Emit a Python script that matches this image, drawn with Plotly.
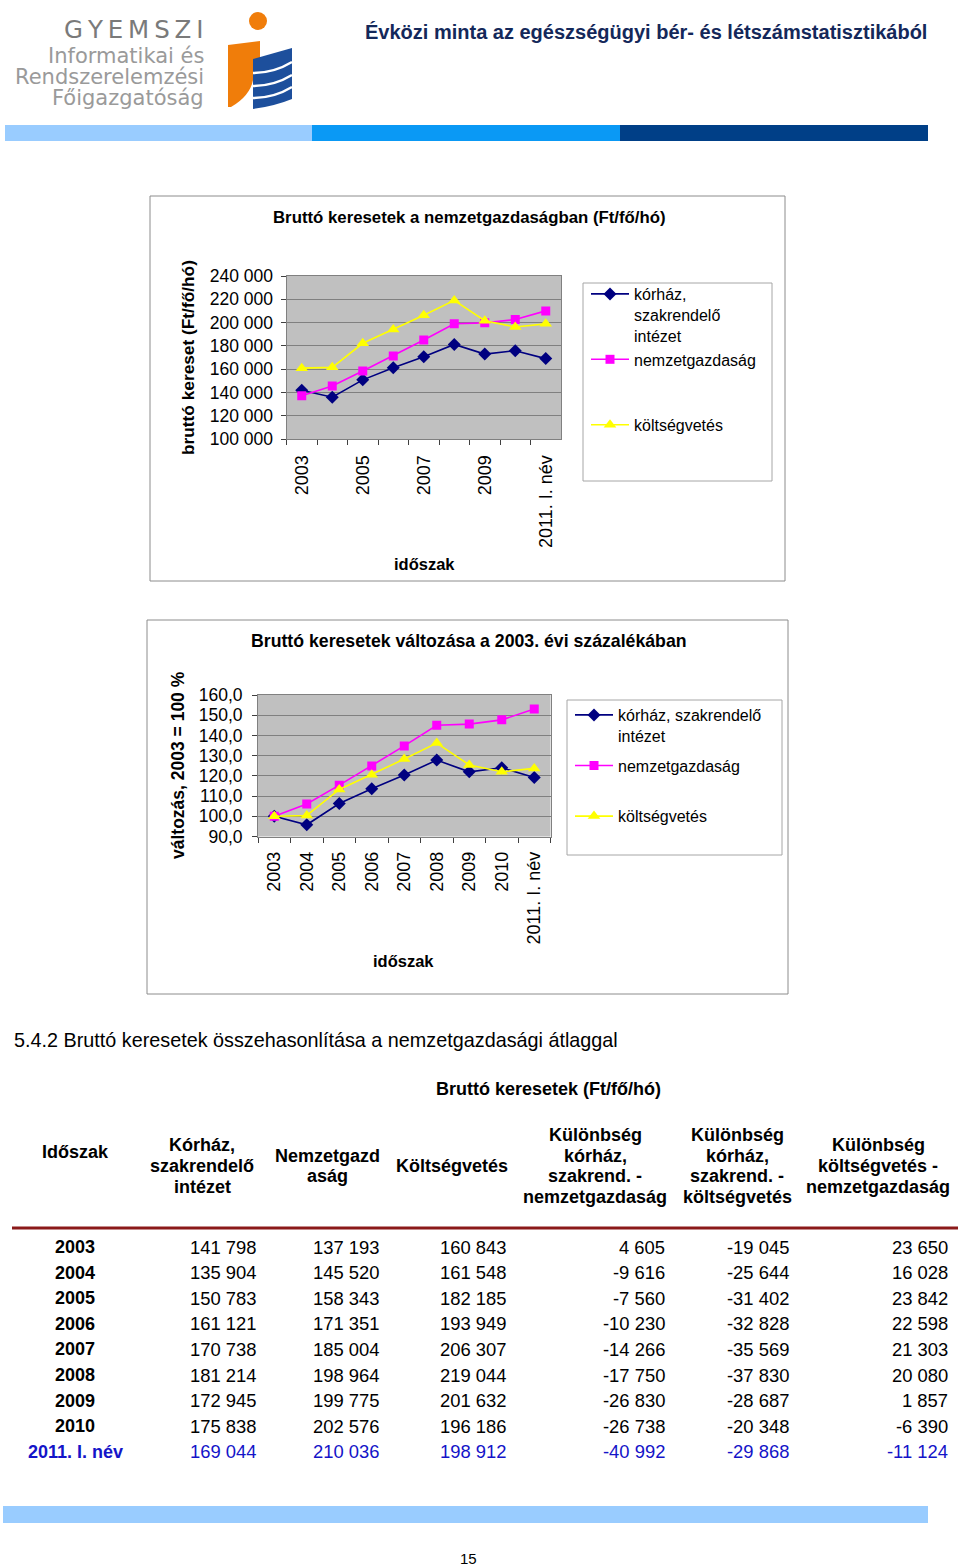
import plotly.graph_objects as go

W, H = 960, 1567
def X(px): return px / W
def Y(py): return 1 - py / H

def P(s):
    """convert a pixel path string (x y pairs) to paper coordinates"""
    out, nums = [], []
    for tok in s.replace(",", " ").split():
        if tok.isalpha():
            out.append(tok)
        else:
            nums.append(float(tok))
            if len(nums) == 2:
                out.append(f"{X(nums[0]):.5f},{Y(nums[1]):.5f}")
                nums = []
    return " ".join(out)

# ---------------- data ----------------
periods = ["2003", "2004", "2005", "2006", "2007", "2008", "2009", "2010", "2011. I. név"]
korhaz = [141798, 135904, 150783, 161121, 170738, 181214, 172945, 175838, 169044]
nemzetgazdasag = [137193, 145520, 158343, 171351, 185004, 198964, 199775, 202576, 210036]
koltsegvetes = [160843, 161548, 182185, 193949, 206307, 219044, 201632, 196186, 198912]
kul_korhaz_nemzet = [4605, -9616, -7560, -10230, -14266, -17750, -26830, -26738, -40992]
kul_korhaz_kolts = [-19045, -25644, -31402, -32828, -35569, -37830, -28687, -20348, -29868]
kul_kolts_nemzet = [23650, 16028, 23842, 22598, 21303, 20080, 1857, -6390, -11124]

korhaz_pct = [100.0, 95.8, 106.3, 113.6, 120.4, 127.8, 122.0, 124.0, 119.2]
nemzetgazdasag_pct = [100.0, 106.1, 115.4, 124.9, 134.8, 145.0, 145.6, 147.7, 153.1]
koltsegvetes_pct = [100.0, 100.4, 113.3, 120.6, 128.3, 136.2, 125.4, 122.0, 123.7]

legend1_names = ["kórház,<br>szakrendelő<br>intézet", "nemzetgazdaság<br>\u00a0<br>\u00a0", "költségvetés"]
legend2_names = ["kórház, szakrendelő<br>intézet", "nemzetgazdaság<br>\u00a0", "költségvetés"]
chart1_ticktext = ["2003", "", "2005", "", "2007", "", "2009", "", "2011. I. név"]

table_headers = [
    ["Időszak"],
    ["Kórház,", "szakrendelő", "intézet"],
    ["Nemzetgazd", "aság"],
    ["Költségvetés"],
    ["Különbség", "kórház,", "szakrend. -", "nemzetgazdaság"],
    ["Különbség", "kórház,", "szakrend. -", "költségvetés"],
    ["Különbség", "költségvetés -", "nemzetgazdaság"],
]

# ---------------- styles ----------------
FONT = "Liberation Sans, Arial, sans-serif"
colors = ["#000080", "#FF00FF", "#FFFF00"]
symbols = ["diamond", "square", "triangle-up"]
sizes = [10, 9, 11]

fig = go.Figure()

for vals, nm, c, s, sz in zip([korhaz, nemzetgazdasag, koltsegvetes], legend1_names, colors, symbols, sizes):
    fig.add_trace(go.Scatter(x=periods, y=vals, name=nm, mode="lines+markers",
                             line=dict(color=c, width=1.6),
                             marker=dict(symbol=s, size=sz, color=c),
                             xaxis="x", yaxis="y", legend="legend"))

for i, (vals, nm, c, s, sz) in enumerate(zip([korhaz_pct, nemzetgazdasag_pct, koltsegvetes_pct],
                                             legend2_names, colors, symbols, sizes)):
    fig.add_trace(go.Scatter(x=periods, y=vals, name=nm, mode="lines+markers",
                             line=dict(color=c, width=1.6),
                             marker=dict(symbol=s, size=sz, color=c),
                             legendgroup=f"g2_{i}",
                             xaxis="x2", yaxis="y2", legend="legend2"))

axis_common = dict(showline=True, linecolor="#808080", linewidth=1, mirror=True,
                   ticks="outside", ticklen=5, tickcolor="#404040", fixedrange=True)
xfont = dict(family=FONT, size=18, color="black")
yfont = dict(family=FONT, size=17.5, color="black")

fig.update_layout(
    width=W, height=H, margin=dict(l=0, r=0, t=0, b=0, pad=0, autoexpand=False),
    paper_bgcolor="white", plot_bgcolor="#C0C0C0",
    separators=", ", showlegend=True,
    font=dict(family=FONT, color="black"),
    xaxis=dict(domain=[X(286.5), X(561)], anchor="y", type="category",
               range=[-0.5, 8.5], tickvals=periods, ticktext=chart1_ticktext,
               tickangle=-90, tickson="boundaries", showgrid=False, tickfont=xfont,
               ticklabelstandoff=8, **axis_common),
    yaxis=dict(domain=[Y(439), Y(276)], anchor="x", range=[100000, 240000], dtick=20000,
               tickformat=",d", showgrid=True, gridcolor="#808080", gridwidth=1, tickfont=yfont,
               ticklabelstandoff=4, **axis_common),
    xaxis2=dict(domain=[X(258), X(550.5)], anchor="y2", type="category",
                range=[-0.5, 8.5], tickvals=periods, ticktext=periods,
                tickangle=-90, tickson="boundaries", showgrid=False, tickfont=xfont,
                ticklabelstandoff=7, **axis_common),
    yaxis2=dict(domain=[Y(836.5), Y(695)], anchor="x2", range=[90, 160], dtick=10,
                tickformat=".1f", showgrid=True, gridcolor="#808080", gridwidth=1, tickfont=yfont,
                ticklabelstandoff=6, **axis_common),
    legend=dict(x=X(586), y=Y(277), xanchor="left", yanchor="top", valign="top",
                bgcolor="rgba(0,0,0,0)", borderwidth=0, itemwidth=38,
                font=dict(family=FONT, size=16, color="black"), tracegroupgap=0),
    legend2=dict(x=X(570), y=Y(698), xanchor="left", yanchor="top", valign="top",
                 bgcolor="rgba(0,0,0,0)", borderwidth=0, itemwidth=38,
                 font=dict(family=FONT, size=16, color="black"), tracegroupgap=6),
)

shapes = []
def rect(x0, y0, x1, y1, fill=None, line=None, lw=1, layer="above"):
    shapes.append(dict(type="rect", xref="paper", yref="paper",
                       x0=X(x0), x1=X(x1), y0=Y(y1), y1=Y(y0),
                       fillcolor=fill if fill else "rgba(0,0,0,0)",
                       line=dict(color=line if line else "rgba(0,0,0,0)", width=lw if line else 0),
                       layer=layer))

# header bars
rect(5, 125, 312, 141, fill="#99CCFF")
rect(312, 125, 620, 141, fill="#0A99F5")
rect(620, 125, 928, 141, fill="#003F87")
# footer bar
rect(3, 1506, 928, 1523, fill="#99CCFF")
# chart frames
rect(150, 196, 785, 581, line="#8C8C8C")
rect(583, 283, 772, 481, line="#A6A6A6")
rect(147, 620, 788, 994, line="#8C8C8C")
rect(567, 700, 782, 855, line="#A6A6A6")
# table red rule
shapes.append(dict(type="line", xref="paper", yref="paper", x0=X(12), x1=X(958), y0=Y(1228), y1=Y(1228),
                   line=dict(color="#8B1A1A", width=3)))

# logo
shapes.append(dict(type="circle", xref="paper", yref="paper", x0=X(249), x1=X(267), y0=Y(30), y1=Y(12),
                   fillcolor="#F07D0A", line=dict(width=0)))
shapes.append(dict(type="path", xref="paper", yref="paper",
                   path=P("M 228 45 L 260 41 L 260 60 L 253 62 L 253 80 Q 250 96 231 107 L 228 107 Z"),
                   fillcolor="#F07D0A", line=dict(width=0)))
shapes.append(dict(type="path", xref="paper", yref="paper",
                   path=P("M 253 59 L 292 48 L 292 99 Q 275 106 253 109 Z"),
                   fillcolor="#1D4F9C", line=dict(width=0)))
for yy in (73, 86, 98):
    shapes.append(dict(type="path", xref="paper", yref="paper",
                       path=P(f"M 253 {yy} Q 274 {yy} 292 {yy-11}"),
                       line=dict(color="white", width=2.5)))

fig.update_layout(shapes=shapes)

ann = []
def text(x, y, s, size, color="black", family=FONT, xanchor="center", yanchor="middle", bold=False, angle=0):
    ann.append(dict(x=X(x), y=Y(y), xref="paper", yref="paper", text=f"<b>{s}</b>" if bold else s,
                    showarrow=False, xanchor=xanchor, yanchor=yanchor, textangle=angle,
                    font=dict(family=family, size=size, color=color)))

# header texts
LOGO = "DejaVu Sans, " + FONT
text(206, 30, "G\u2009Y\u2009E\u2009M\u2009S\u2009Z\u2009I", 24.5, color="#7A7A7A", family=LOGO, xanchor="right")
text(206, 56, "Informatikai és", 21, color="#9A9A9A", family=LOGO, xanchor="right")
text(206, 77, "Rendszerelemzési", 21, color="#9A9A9A", family=LOGO, xanchor="right")
text(206, 98, "Főigazgatóság", 21, color="#9A9A9A", family=LOGO, xanchor="right")
text(646, 32, "Évközi minta az egészségügyi bér- és létszámstatisztikából", 20, color="#14285A", bold=True)

# chart 1 texts
text(469, 217, "Bruttó keresetek a nemzetgazdaságban (Ft/fő/hó)", 16.8, bold=True)
text(188, 358, "bruttó kereset (Ft/fő/hó)", 17.3, bold=True, angle=-90)
text(424, 564, "időszak", 16.5, bold=True)
# chart 2 texts
text(469, 641, "Bruttó keresetek változása a 2003. évi százalékában", 17.7, bold=True)
text(178, 765, "változás, 2003 = 100 %", 17.5, bold=True, angle=-90)
text(403, 961, "időszak", 16.5, bold=True)

# section heading
text(12, 1040, "5.4.2 Bruttó keresetek összehasonlítása a nemzetgazdasági átlaggal", 19.8, xanchor="left")
text(548, 1089, "Bruttó keresetek (Ft/fő/hó)", 18, bold=True)

# table header
head_x = [75, 202, 327, 452, 595, 737, 878]
for j, lines in enumerate(table_headers):
    n = len(lines)
    yc = 1152 if j == 0 else 1166
    for i, ln in enumerate(lines):
        text(head_x[j], yc + (i - (n - 1) / 2) * 20.7, ln, 18, bold=True)

def fmt(v):
    return f"{v:,}".replace(",", " ")

cols = [korhaz, nemzetgazdasag, koltsegvetes, kul_korhaz_nemzet, kul_korhaz_kolts, kul_kolts_nemzet]
right_x = [258, 381, 508, 667, 791, 950]
for r, per in enumerate(periods):
    yy = 1247 + r * 25.6
    col = "#1414C8" if r == len(periods) - 1 else "black"
    text(75, yy, per, 18, color=col, bold=True)
    for c, vals in enumerate(cols):
        text(right_x[c], yy, fmt(vals[r]), 18.4, color=col, xanchor="right")

text(468, 1558, "15", 15)

fig.update_layout(annotations=ann)
fig.write_html("out.html", config={"displayModeBar": False},
               post_script="document.body.style.margin='0';document.body.style.overflow='hidden';")
